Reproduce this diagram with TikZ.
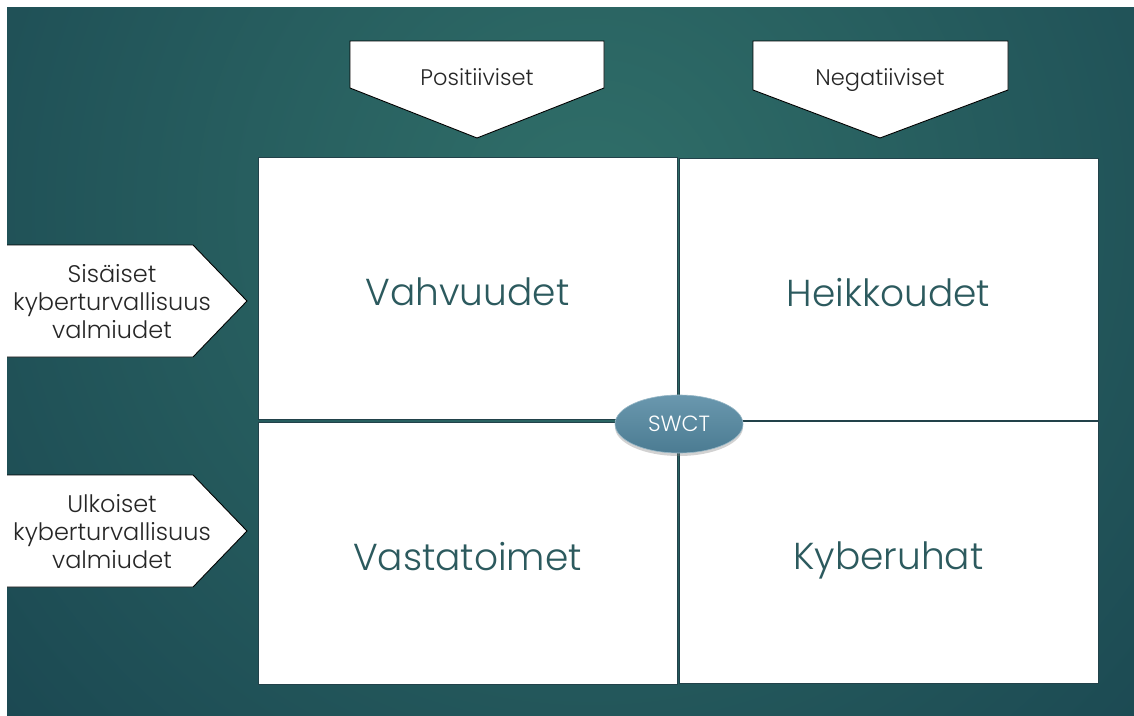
\documentclass[tikz,border=0pt]{standalone}
\usepackage{fontspec}
\setmainfont{Poppins}[UprightFont=* Light]
\usetikzlibrary{shapes.geometric,shadows}
\definecolor{bgin}{HTML}{306F69}
\definecolor{bgout}{HTML}{143B4A}
\definecolor{quadtext}{HTML}{2C5A5E}
\definecolor{boxline}{HTML}{22424A}
\definecolor{elltop}{HTML}{6A98AE}
\definecolor{ellbot}{HTML}{4B7B92}
\tikzset{
  tabshape/.style={fill=white, draw=black, line width=0.9pt, line join=miter},
  tabfill/.style={fill=white},
  sidelabel/.style={font=\fontsize{24}{28}\selectfont, text=black!85, align=center, inner sep=0pt},
  toplabel/.style={font=\fontsize{22.5}{26}\selectfont, text=black!85, inner sep=0pt},
  quad/.style={draw=boxline, line width=1pt, fill=white, minimum width=419pt, minimum height=262pt,
    inner sep=0pt, outer sep=0pt, font=\fontsize{37.5}{44}\selectfont, text=quadtext,
    text height=34pt, text depth=0pt},
  swctnode/.style={ellipse, minimum width=128pt, minimum height=58pt, inner sep=0pt,
    top color=elltop, bottom color=ellbot, draw=elltop!70!white, line width=0.6pt,
    text=white, font=\fontsize{22}{24}\selectfont,
    drop shadow={shadow xshift=0pt, shadow yshift=-3pt, opacity=0.35}}
}
\begin{document}
\begin{tikzpicture}[x=1pt, y=-1pt]
\useasboundingbox (0,0) rectangle (1134,715);
\begin{scope}
  \clip (-5,-5) rectangle (1145,725);
  \shade[inner color=bgin, outer color=bgout] (590,210) circle (1050pt);
\end{scope}
\fill[white] (-2,-2) rectangle (1140,7);
\fill[white] (-2,-2) rectangle (7,720);

% top tabs
\path[tabshape] (350,41) -- (604,41) -- (604,88) -- (477,138) -- (350,88) -- cycle;
\node[toplabel, anchor=base] (pos) at (477,85) {Positiiviset};
\path[tabshape] (753,41) -- (1008,41) -- (1008,90) -- (880,138) -- (753,90) -- cycle;
\node[toplabel, anchor=base] (neg) at (880,85) {Negatiiviset};

% side tabs
\fill[tabfill] (7,245) -- (193,245) -- (247,301) -- (193,357) -- (7,357) -- cycle;
\draw[tabshape, fill=none] (7,245) -- (193,245) -- (247,301) -- (193,357) -- (7,357);
\node[sidelabel] (sis) at (112,302) {Sisäiset\\kyberturvallisuus\\valmiudet};
\fill[tabfill] (7,475) -- (193,475) -- (247,531) -- (193,587) -- (7,587) -- cycle;
\draw[tabshape, fill=none] (7,475) -- (193,475) -- (247,531) -- (193,587) -- (7,587);
\node[sidelabel] (ulk) at (112,532) {Ulkoiset\\kyberturvallisuus\\valmiudet};

% quadrants
\node[quad] (vahv) at (467.5,288.5) {Vahvuudet};
\node[quad] (heik) at (888.5,289) {Heikkoudet};
\node[quad] (vast) at (467.5,553) {Vastatoimet};
\node[quad] (kyb) at (888.5,552.5) {Kyberuhat};

% center ellipse
\node[swctnode] (swct) at (679,424) {SWCT};
\end{tikzpicture}
\end{document}
